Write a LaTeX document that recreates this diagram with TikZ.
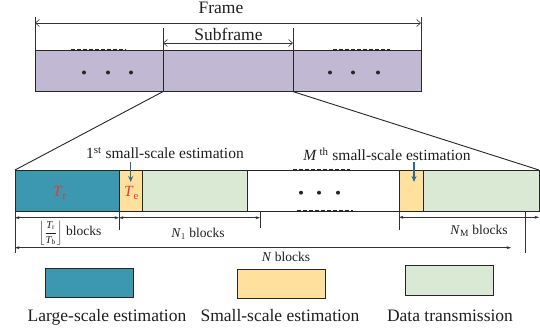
\documentclass[tikz,border=0pt]{standalone}
\usepackage{fontspec}
\setmainfont{Liberation Serif}
\usetikzlibrary{arrows.meta,positioning}
\definecolor{framepurple}{HTML}{C1B9D4}
\definecolor{largeblue}{HTML}{3C97B0}
\definecolor{smallyellow}{HTML}{FFE09D}
\definecolor{datagreen}{HTML}{D9E9D3}
\definecolor{markblue}{HTML}{2B6C8F}
\definecolor{labelred}{HTML}{E5383D}
\begin{document}
\begin{tikzpicture}[x=1pt,y=-1pt]
      \tikzstyle{blk} = [rectangle, draw=black!85, line width=0.9pt, inner sep=0pt, outer sep=0pt]
      \tikzstyle{bigtext} = [font=\fontsize{17.5}{20}\selectfont, text=black!88]
      \tikzstyle{midtext} = [font=\fontsize{15.5}{18}\selectfont, text=black!88]
      \tikzstyle{smalltext} = [font=\fontsize{13.5}{16}\selectfont, text=black!88]
      \tikzstyle{dim} = [line width=0.6pt, black!80, {Stealth[length=4.5pt,width=3pt]}-{Stealth[length=4.5pt,width=3pt]}]
      \tikzstyle{tick} = [line width=0.7pt, black!80]
      \tikzstyle{gapdash} = [line width=1.3pt, black!85, dash pattern=on 4pt off 2pt]
      \tikzstyle{pointer} = [line width=1.5pt, markblue, -{Stealth[length=6pt,width=5pt]}]
      \useasboundingbox (0,0) rectangle (540,334);

      % frame
      \node[blk, fill=framepurple, minimum width=128pt, minimum height=41.6pt] (f1) at (99,70.8) {};
      \node[blk, fill=framepurple, minimum width=130pt, minimum height=41.6pt] (f2) at (228,70.8) {};
      \node[blk, fill=framepurple, minimum width=128pt, minimum height=41.6pt] (f3) at (357,70.8) {};
      \foreach \x in {84,108,131,330,353,378} \fill[black!85] (\x,72.5) circle (2pt);
      \draw[gapdash] (71,50) -- (126,50);
      \draw[gapdash] (72.5,91.6) -- (128.5,91.6);
      \draw[gapdash] (333,50) -- (390,50);
      \draw[gapdash] (333,91.6) -- (390,91.6);

      \node[bigtext] (framelbl) at (221,8) {Frame};
      \node[bigtext] (subframelbl) at (228.5,34.5) {Subframe};
      \coordinate (ftl) at (35,17);
      \coordinate (ftr) at (421,17);
      \coordinate (stl) at (163,28);
      \coordinate (str) at (293,28);
      \draw[tick] (ftl) -- (f1.north west);
      \draw[tick] (ftr) -- (f3.north east);
      \draw[tick, line width=1pt] (stl) -- (f2.north west);
      \draw[tick, line width=1pt] (str) -- (f2.north east);
      \coordinate (fa) at (35,23);
      \coordinate (fb) at (421,23);
      \coordinate (sa) at (163,43);
      \coordinate (sb) at (293,43);
      \draw[dim, {Straight Barb[length=4pt,width=7pt]}-{Straight Barb[length=4pt,width=7pt]}] (fa) -- (fb);
      \draw[dim, {Straight Barb[length=4pt,width=7pt]}-{Straight Barb[length=4pt,width=7pt]}] (sa) -- (sb);

      % subframe detail
      \node[blk, fill=largeblue, minimum width=104pt, minimum height=41pt] (lr) at (67,190.5) {};
      \node[blk, fill=smallyellow, minimum width=23.3pt, minimum height=41pt] (se1) at (130.65,190.5) {};
      \node[blk, fill=datagreen, minimum width=105.4pt, minimum height=41pt] (dt1) at (195,190.5) {};
      \node[blk, fill=smallyellow, minimum width=24.7pt, minimum height=41pt] (seM) at (411.35,190.5) {};
      \node[blk, fill=datagreen, minimum width=115.3pt, minimum height=41pt] (dtM) at (481.35,190.5) {};
      \draw[line width=0.9pt, black!85] (dt1.north east) -- (seM.north west);
      \draw[line width=0.9pt, black!85] (dt1.south east) -- (seM.south west);
      \draw[gapdash] (293,170) -- (350,170);
      \draw[gapdash] (297,211) -- (353,211);
      \foreach \x in {301,319,338} \fill[black!85] (\x,192.7) circle (2pt);
      \node[midtext, text=labelred] (tr) at (60,193) {\textit{T}$_\mathrm{r}$};
      \node[midtext, text=labelred] (te) at (131.5,193) {\textit{T}$_\mathrm{e}$};

      \draw[line width=0.9pt, black!85] (f2.south west) -- (lr.north west);
      \draw[line width=0.9pt, black!85] (f2.south east) -- (dtM.north east);

      \node[midtext] (est1) at (165,153) {1\textsuperscript{st} small-scale estimation};
      \node[midtext] (estM) at (387,154.5) {\textit{M}\,\textsuperscript{th} small-scale estimation};
      \coordinate (p1a) at (130.7,162);
      \coordinate (p1b) at (130.7,182);
      \coordinate (pMa) at (414,162);
      \coordinate (pMb) at (414,182);
      \draw[pointer] (p1a) -- (p1b);
      \draw[pointer] (pMa) -- (pMb);

      % block counts
      \coordinate (t0) at (15,253);
      \coordinate (t1) at (119,230);
      \coordinate (t2a) at (260,211);
      \coordinate (t2b) at (260,228);
      \coordinate (t3) at (399,230);
      \coordinate (t4a) at (525,211);
      \coordinate (t4b) at (525,253);
      \draw[tick] (lr.south west) -- (t0);
      \draw[tick] (lr.south east) -- (t1);
      \draw[tick] (t2a) -- (t2b);
      \draw[tick] (seM.south west) -- (t3);
      \draw[tick] (t4a) -- (t4b);
      \coordinate (d0) at (15,217.7);
      \coordinate (d1) at (119,217.7);
      \coordinate (d2) at (260,217.7);
      \coordinate (d3) at (399,217.3);
      \coordinate (d4) at (539,217.3);
      \coordinate (n0) at (15,247.7);
      \coordinate (n1) at (511,247.7);
      \draw[dim] (d0) -- (d1);
      \draw[dim] (d1) -- (d2);
      \draw[dim] (d3) -- (d4);
      \draw[dim] (n0) -- (n1);
      \node[smalltext] (lrblocks) at (70,233) {{\fontsize{10.5}{12}\selectfont$\left\lfloor\displaystyle\frac{\textit{T}_\mathrm{r}}{\textit{T}_\mathrm{b}}\right\rfloor$} blocks};
      \node[smalltext] (n1blocks) at (198,234) {\textit{N}$_1$ blocks};
      \node[smalltext] (nMblocks) at (479,231) {\textit{N}$_\mathrm{M}$ blocks};
      \node[smalltext] (nblocks) at (286,257) {\textit{N} blocks};

      % legend
      \node[blk, fill=largeblue, minimum width=88pt, minimum height=29pt] (keylarge) at (89,282.5) {};
      \node[blk, fill=smallyellow, minimum width=88pt, minimum height=29pt] (keysmall) at (281,283.5) {};
      \node[blk, fill=datagreen, minimum width=87.3pt, minimum height=30pt] (keydata) at (449.35,280) {};
      \node[bigtext] (keylargelbl) at (107,317) {Large-scale estimation};
      \node[bigtext] (keysmalllbl) at (280,316) {Small-scale estimation};
      \node[bigtext] (keydatalbl) at (450,316) {Data transmission};
    \end{tikzpicture}
\end{document}
